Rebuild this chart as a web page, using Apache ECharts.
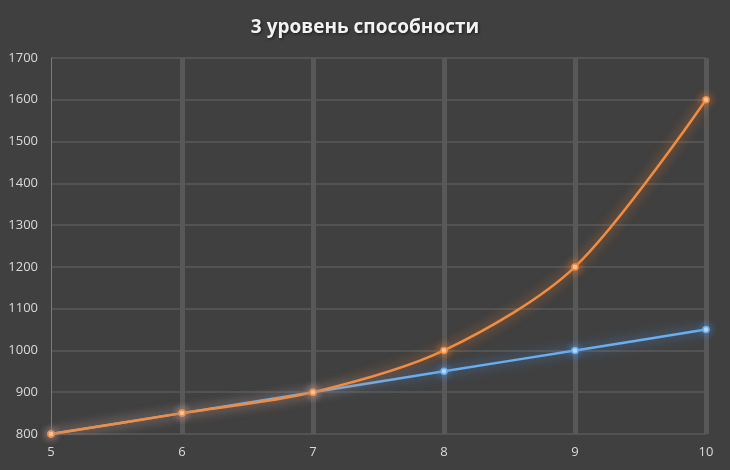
<!DOCTYPE html>
<html><head><meta charset="utf-8">
<script src="https://cdn.jsdelivr.net/npm/echarts@6/dist/echarts.min.js"></script>
<style>html,body{margin:0;padding:0;background:#404040;}#c{width:730px;height:470px;}</style>
</head><body><div id="c"></div>
<script>
const titleText = "3 уровень способности";
const xValues = [5, 6, 7, 8, 9, 10];
const blueValues = [800, 850, 900, 950, 1000, 1050];
const orangeValues = [800, 850, 900, 1000, 1200, 1600];

const chart = echarts.init(document.getElementById('c'), null, {renderer: 'canvas'});
const pair = (ys) => xValues.map((x, i) => [x, ys[i]]);
const font = "'Open Sans', 'Liberation Sans', sans-serif";
chart.setOption({
  backgroundColor: '#404040',
  animation: false,
  title: {
    text: titleText, left: 'center', top: 13,
    textStyle: {color: '#f2f2f2', fontSize: 19, fontWeight: 'bold', fontFamily: font,
      textShadowColor: 'rgba(0,0,0,0.6)', textShadowBlur: 3, textShadowOffsetX: 1, textShadowOffsetY: 1}
  },
  grid: {left: 51, right: 24, top: 58, bottom: 36},
  xAxis: {
    type: 'value', min: 5, max: 10, interval: 1,
    axisLine: {show: false},
    axisTick: {show: false},
    axisLabel: {color: '#d9d9d9', fontSize: 13, fontFamily: font, margin: 12, formatter: (v) => String(v)},
    splitLine: {show: true, showMinLine: false, lineStyle: {color: '#585858', width: 5}}
  },
  yAxis: {
    type: 'value', min: 800, max: 1700, interval: 100,
    axisLine: {show: true, lineStyle: {color: '#7a7a7a', width: 1}},
    axisTick: {show: false},
    axisLabel: {color: '#d9d9d9', fontSize: 13, fontFamily: font, margin: 13, formatter: (v) => String(v)},
    splitLine: {show: true, lineStyle: {color: '#5a5a5a', width: 1.5}}
  },
  series: [
    {
      type: 'line', data: pair(blueValues), smooth: 0.3,
      symbol: 'circle', symbolSize: 6,
      lineStyle: {color: '#6aaef0', width: 2.5, shadowColor: 'rgba(80,150,230,0.9)', shadowBlur: 12},
      itemStyle: {color: '#cfe6fb', borderColor: '#6aaef0', borderWidth: 1.5, shadowColor: 'rgba(80,150,230,0.9)', shadowBlur: 8}
    },
    {
      type: 'line', data: pair(orangeValues), smooth: 0.3,
      symbol: 'circle', symbolSize: 6,
      lineStyle: {color: '#f28c42', width: 2.5, shadowColor: 'rgba(240,130,50,0.9)', shadowBlur: 12},
      itemStyle: {color: '#fbd3b3', borderColor: '#f28c42', borderWidth: 1.5, shadowColor: 'rgba(240,130,50,0.9)', shadowBlur: 8}
    }
  ]
});
</script></body></html>
